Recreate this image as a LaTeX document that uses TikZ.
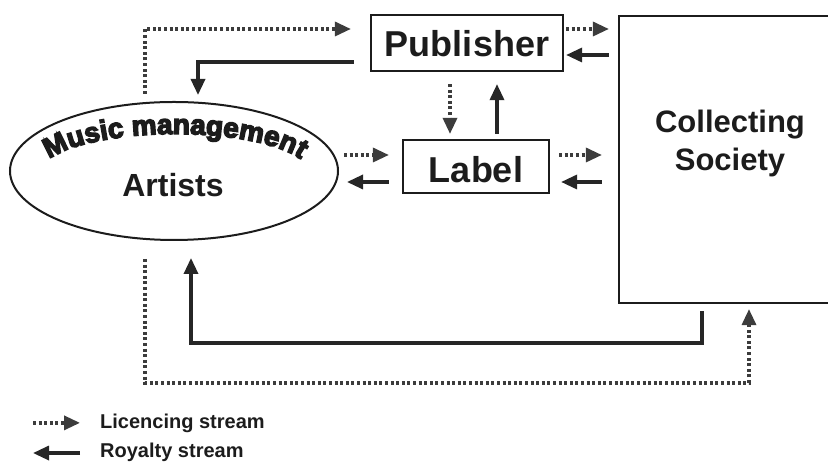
\documentclass[tikz,border=0pt]{standalone}
\usepackage{fontspec}
\setmainfont{Liberation Sans}
\newfontfamily\mmfont{Liberation Sans Bold}[FakeBold=5]
\usetikzlibrary{arrows.meta,calc,shapes.geometric,decorations.text}
\definecolor{ink}{HTML}{1C1C1C}
\definecolor{roycol}{HTML}{262626}
\definecolor{liccol}{HTML}{3C3C3C}
\begin{document}
\begin{tikzpicture}[x=1pt,y=1pt,
  boxnode/.style={draw=ink, line width=2.2pt, inner sep=0pt, text=ink,
    font=\fontsize{36}{40}\selectfont\bfseries, text depth=0pt},
  bigtext/.style={text=ink, inner sep=0pt, font=\fontsize{31}{38}\selectfont\bfseries},
  legendtext/.style={text=ink, inner sep=0pt, font=\fontsize{20}{22}\selectfont\bfseries},
  roy/.style={draw=roycol, line width=3.3pt, -{Triangle[length=16pt,width=14pt]}},
  lic/.style={draw=liccol, line width=3.3pt, dash pattern=on 3pt off 2.6pt,
    -{Triangle[length=16pt,width=14pt]}},
]
\useasboundingbox (0,0) rectangle (828,462);

% boxes
\node[boxnode, minimum width=192pt, minimum height=56pt, text height=27.4pt]
  (pub) at (467,419) {Publisher};
\node[boxnode, minimum width=146pt, minimum height=53pt, text height=32.4pt]
  (lab) at (476,295.5) {Label};
\node[draw=ink, line width=2.2pt, minimum width=226pt, minimum height=287pt]
  (cs) at (732,302.5) {};
\node[bigtext, align=center] (cstext) at (730,319) {Collecting\\Society};

% artists ellipse with curved heading
\node[draw=ink, line width=2pt, ellipse, minimum width=328pt, minimum height=138pt]
  (art) at (174,291) {};
\node[bigtext, font=\fontsize{32}{38}\selectfont\bfseries, anchor=base]
  (artname) at (173,265.3) {Artists};
\path[decorate, decoration={text along path, text align=center,
    text color=ink, text={|\mmfont\fontsize{28}{28}\selectfont|Music management}}]
  (45.9,299.7) arc[start angle=163, end angle=17, x radius=135, y radius=40];

% artists <-> publisher
\draw[lic] ($(art.north)+(-29,7)$) |- ($(pub.west)+(-19,14)$);
\draw[roy] ($(pub.west)+(-16,-19)$) -| ($(art.north)+(24,6)$);

% publisher <-> collecting society
\draw[lic] ($(pub.east)+(2,14)$) -- ($(cs.west |- pub.east)+(-9,14)$);
\draw[roy] ($(cs.west |- pub.east)+(-9,-12)$) -- ($(pub.east)+(2,-12)$);

% publisher <-> label
\draw[lic] ($(pub.south)+(-17,-12)$) -- ($(lab.north)+(-26,5)$);
\draw[roy] ($(lab.north)+(21,5)$) -- ($(pub.south)+(30,-12)$);

% artists <-> label
\draw[lic] ($(art.east)+(5,16)$) -- ($(lab.west)+(-13,11.5)$);
\draw[roy] ($(lab.west)+(-13,-15.5)$) -- ($(art.east)+(8,-11)$);

% label <-> collecting society
\draw[lic] ($(lab.east)+(9,11.5)$) -- ($(cs.west |- lab.east)+(-16,11.5)$);
\draw[roy] ($(cs.west |- lab.east)+(-16,-15.5)$) -- ($(lab.east)+(11,-15.5)$);

% collecting society <-> artists (bottom loop)
\draw[roy] ($(cs.south)+(-30,-7)$) -- ($(cs.south)+(-30,-39)$) -| ($(art.south)+(17,-17)$);
\draw[lic] ($(art.south)+(-29,-18)$) -- ($(art.south)+(-29,-142)$) -| ($(cs.south)+(17,-5)$);

% legend
\node[legendtext, anchor=base west] (liclbl) at (100,33.5) {Licencing stream};
\node[legendtext, anchor=base west] (roylbl) at (100,4.3) {Royalty stream};
\draw[lic] ($(liclbl.west)+(-67,0.5)$) -- ($(liclbl.west)+(-20,0.5)$);
\draw[roy] ($(roylbl.west)+(-20,-0.5)$) -- ($(roylbl.west)+(-67,-0.5)$);
\end{tikzpicture}
\end{document}
